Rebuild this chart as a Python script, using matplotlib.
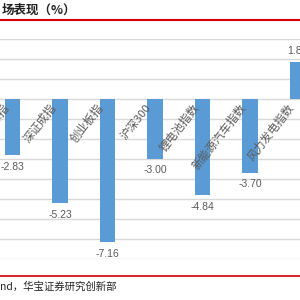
import matplotlib
matplotlib.use("Agg")
import matplotlib.pyplot as plt
import matplotlib.transforms as mtransforms
from matplotlib.lines import Line2D

plt.rcParams['font.family'] = ['Noto Sans CJK SC', 'DejaVu Sans']

categories = ['上证综指', '深证成指', '创业板指', '沪深300', '锂电池指数', '新能源汽车指数', '风力发电指数']
values = [-2.83, -5.23, -7.16, -3.00, -4.84, -3.70, 1.84]
value_labels = ['-2.83', '-5.23', '-7.16', '-3.00', '-4.84', '-3.70', '1.84']

bar_color = '#5b9bd5'
text_gray = '#595959'
red = '#d40000'

fig = plt.figure(figsize=(3, 3), dpi=100)
ax = fig.add_axes([0, 0.1383, 1, 0.7333])

x = list(range(len(categories)))
ax.bar(x, values, width=0.32, color=bar_color, zorder=2)

ax.set_xlim(-12.5 / 47.5, (300 - 12.5) / 47.5)
ax.set_ylim(-8, 3)
ax.set_yticks(range(-8, 4))
ax.grid(axis='y', color='#d9d9d9', linewidth=1, zorder=0)
ax.tick_params(left=False, bottom=False, labelleft=False, labelbottom=False)
for s in ax.spines.values():
    s.set_visible(False)

# value labels
for xi, v, lab in zip(x, values, value_labels):
    if v < 0:
        ax.annotate(lab, (xi, v), xytext=(0, -5), textcoords='offset points',
                    ha='center', va='top', fontsize=7.5, color=text_gray,
                    family='Liberation Sans')
    else:
        ax.annotate(lab, (xi, v), xytext=(0, 4), textcoords='offset points',
                    ha='center', va='bottom', fontsize=7.5, color=text_gray,
                    family='Liberation Sans')

# rotated category labels next to the zero line
offset = mtransforms.offset_copy(ax.transData, fig=fig, x=-6, y=-7, units='dots')
for xi, c in zip(x, categories):
    ax.text(xi, 0, c, transform=offset, rotation=52, rotation_mode='anchor',
            ha='right', va='center', fontsize=8.2, color=text_gray, zorder=3)

# red frame lines
fig.add_artist(Line2D([0, 1], [0.9333, 0.9333], color=red, linewidth=1.5))
fig.add_artist(Line2D([0, 1], [0.08, 0.08], color=red, linewidth=1.2))

fig.text(0.005, 0.965, '场表现（%）', fontsize=9, fontweight='bold',
         color='#222222', ha='left', va='center')
fig.text(0.0, 0.043, 'nd，华宝证券研究创新部', fontsize=7.5, color='#222222',
         ha='left', va='center')

fig.savefig('out.png', dpi=100)
